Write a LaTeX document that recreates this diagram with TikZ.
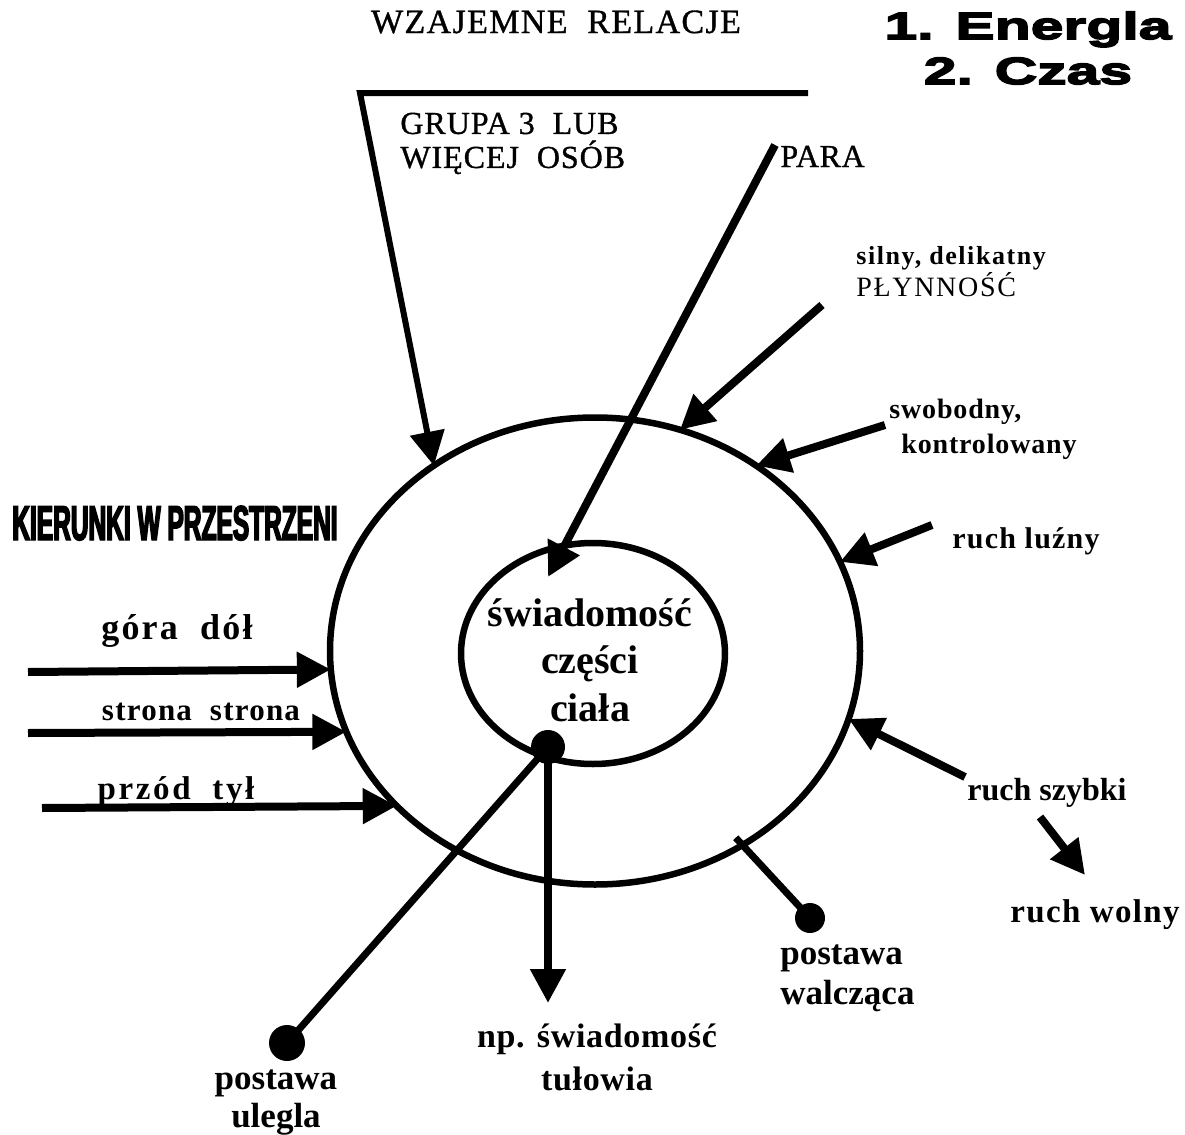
\documentclass[tikz,border=0pt]{standalone}
\usepackage{fontspec}
\setmainfont{Liberation Serif}
\newfontfamily\heavyfont{Liberation Sans}[FakeStretch=1.55,BoldFeatures={FakeBold=4}]
\newfontfamily\narrowfont{Liberation Sans}[FakeStretch=0.5,BoldFeatures={FakeBold=3}]
\newcommand\lblfont[3]{\fontsize{#1}{#2}\selectfont\bfseries\addfontfeatures{LetterSpace=#3}}
\newcommand\capfont[3]{\fontsize{#1}{#2}\selectfont\addfontfeatures{LetterSpace=#3,FakeBold=1}}
\usetikzlibrary{positioning}
\usetikzlibrary{shapes.geometric}
\usetikzlibrary{arrows.meta}
\usetikzlibrary{calc}

\begin{document}
\begin{tikzpicture}[x=0.5pt,y=-0.5pt,
  ring/.style={draw, ellipse, line width=3.25pt, inner sep=0pt, outer sep=0pt},
  arr/.style={line width=4pt, -{Triangle[length=17pt,width=17pt]}},
  stick/.style={line width=3.5pt},
  blob/.style={circle, fill, inner sep=0pt, minimum size=17pt},
  lbl/.style={inner sep=0pt, align=center}]
\useasboundingbox (0,0) rectangle (1185,1135);
% the two rings
\node[ring, minimum width=265pt, minimum height=233.5pt] (outer) at (595,651) {};
\node[ring, minimum width=132pt, minimum height=110.5pt] (inner) at (593,653.5) {};
\node[lbl, font=\lblfont{20}{23.75}{0}] (inner text) at (590,660) {świadomość\\części\\ciała};
% headings
\node[lbl, anchor=base, font=\capfont{17}{20}{4}] (relacje) at (556,33) {WZAJEMNE\ \ RELACJE};
\node[lbl, font=\heavyfont\bfseries\fontsize{19}{22.5}\selectfont] (aspekty) at (1028,48) {1. Energla\\2. Czas};
\node[lbl, anchor=base, font=\narrowfont\bfseries\fontsize{24.5}{28}\selectfont] (kierunki) at (175,540) {KIERUNKI W PRZESTRZENI};
% labels
\node[lbl, anchor=west, align=left, font=\capfont{16}{17}{3}] (grupa) at (400,143.5) {GRUPA 3\ \ LUB\\WIĘCEJ\ \ OSÓB};
\node[lbl, anchor=base west, font=\capfont{16}{17}{2}] (para) at (780,167) {PARA};
\node[lbl, anchor=west, align=left, font=\lblfont{13}{16}{6}] (sila) at (856,271.5) {silny, delikatny\\{\mdseries\fontsize{14}{16}\selectfont\addfontfeatures{LetterSpace=6}PŁYNNOŚĆ}};
\node[lbl, anchor=west, align=left, font=\lblfont{14}{17.5}{3}] (swob) at (889,429) {swobodny,\\\hspace*{6pt}kontrolowany};
\node[lbl, anchor=base, font=\lblfont{15}{17}{4}] (luzny) at (1026,548) {ruch luźny};
\node[lbl, anchor=base, font=\lblfont{16}{19}{0}] (szybki) at (1047,800) {ruch szybki};
\node[lbl, anchor=base, font=\lblfont{16.5}{19}{4}] (wolny) at (1095,922) {ruch wolny};
\node[lbl, anchor=west, align=left, font=\lblfont{17.5}{20}{0}] (walcz) at (780,978) {postawa\\walcząca};
\node[lbl, font=\lblfont{17}{21.5}{2}] (tulow) at (597,1057.5) {np. świadomość\\tułowia};
\node[lbl, font=\lblfont{17.5}{19}{0}] (uleg) at (276,1103) {postawa\\ulegla};
\node[lbl, anchor=base, font=\lblfont{18}{20}{6}] (gora) at (177,639) {góra\ \ dół};
\node[lbl, anchor=base, font=\lblfont{15.5}{18}{4}] (strona) at (201,720) {strona\ \ strona};
\node[lbl, anchor=base, font=\lblfont{16.5}{19}{8}] (przod) at (176,799) {przód\ \ tył};
% dots
\node[blob] (core) at (548,747) {};
\node[blob, minimum size=18pt] (uleg dot) at (287,1043) {};
\node[blob, minimum size=15pt] (walcz dot) at (810,918) {};
% free ends
\coordinate (grupa end) at (808,93);
\coordinate (grupa corner) at (360,93);
\coordinate (para start) at (775,145);
\coordinate (para tip) at (548,577);
\coordinate (sila start) at (822,305);
\coordinate (swob start) at (885,425);
\coordinate (luzny start) at (932,525);
\coordinate (szybki start) at (965,777);
\coordinate (wolny start) at (1040,817);
\coordinate (wolny tip) at (1085,875);
\coordinate (gora start) at (28,672);
\coordinate (strona start) at (28,733);
\coordinate (przod start) at (42,808);
\coordinate (tulow tip) at (548,1003);
% connectors
\draw[arr, line width=3pt] (grupa end) -- (grupa corner) -- (outer.131);
\draw[arr] (para start) -- (para tip);
\draw[arr] (sila start) -- (outer.69);
\draw[arr] (swob start) -- (outer.49);
\draw[arr] (luzny start) -- (outer.20);
\draw[arr] (szybki start) -- (outer.-15);
\draw[arr] (wolny start) -- (wolny tip);
\draw[arr] (gora start) -- (outer.184.5);
\draw[arr] (strona start) -- (outer.198.3);
\draw[arr] (przod start) -- (outer.218.7);
\draw[stick] (core.center) -- (uleg dot.center);
\draw[arr] (core.center) -- (tulow tip);
\draw[stick] ($(outer.center)!0.96!(outer.-53)$) -- (walcz dot.center);
\end{tikzpicture}
\end{document}
